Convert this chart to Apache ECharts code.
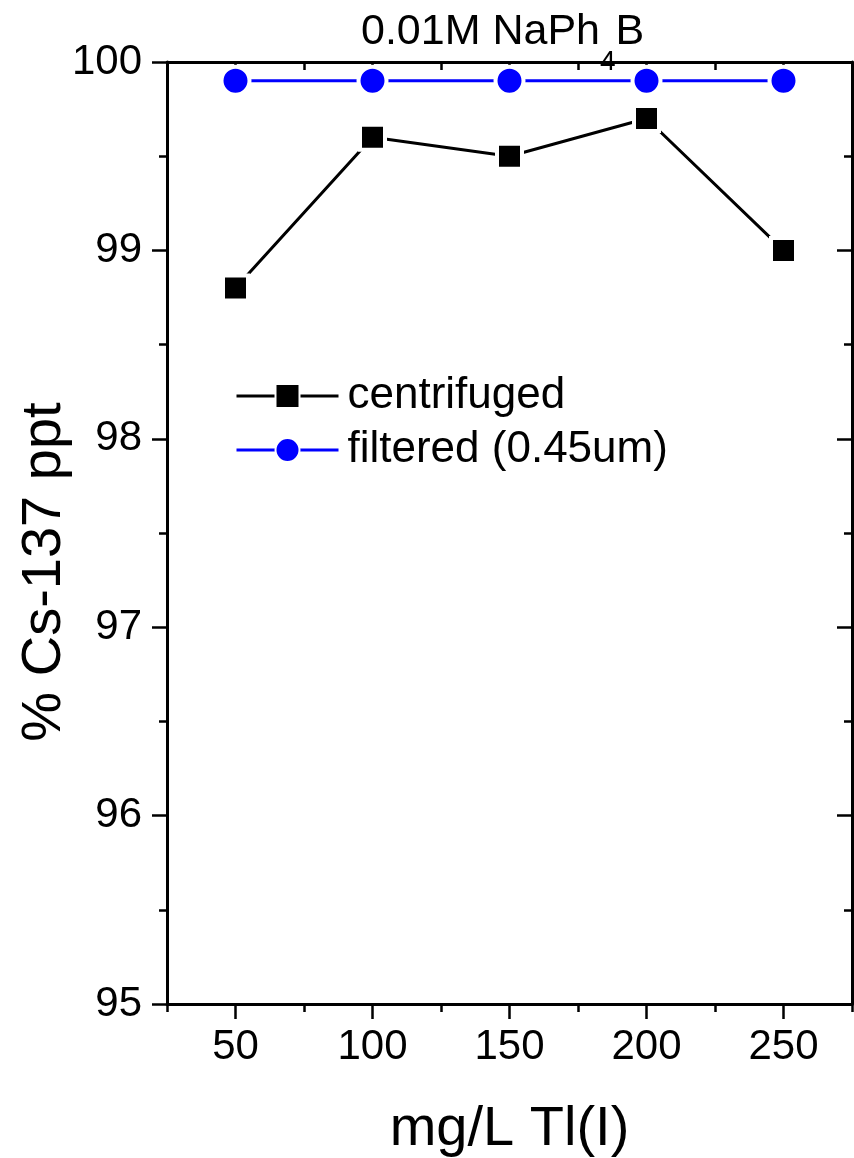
<!DOCTYPE html>
<html>
<head>
<meta charset="utf-8">
<script src="https://cdn.jsdelivr.net/npm/echarts@6/dist/echarts.min.js"></script>
<style>
  html, body { margin: 0; padding: 0; background: #fff; }
  #chart { width: 854px; height: 1158px; }
</style>
</head>
<body>
<div id="chart"></div>
<script>
// Tl(I) concentration, mg/L
const concentrations = [50, 100, 150, 200, 250];
// % Cs-137 precipitated
const centrifuged = [98.8, 99.6, 99.5, 99.7, 99.0];
const filtered = [99.9, 99.9, 99.9, 99.9, 99.9];
const xMajorTicks = [50, 100, 150, 200, 250];
const seriesNames = ['centrifuged', 'filtered (0.45um)'];

const FONT = '"Liberation Sans", Arial, sans-serif';
const AXIS_LINE = { show: true, onZero: false, lineStyle: { color: '#000', width: 3 } };
const TICK_STYLE = { color: '#000', width: 2.5 };

const chart = echarts.init(document.getElementById('chart'), null, { renderer: 'canvas' });

const xBase = { type: 'value', gridIndex: 0, min: 25, max: 275, splitLine: { show: false } };
const yBase = { type: 'value', gridIndex: 0, min: 95, max: 100, interval: 1, splitLine: { show: false } };

chart.setOption({
  backgroundColor: '#fff',
  animation: false,
  textStyle: { fontFamily: FONT, color: '#000' },
  title: {
    // subscript 4 is pushed down by its top padding
    text: '0.01M NaPh{s|4}B',
    left: 361,
    top: 9,
    padding: 0,
    textStyle: {
      fontFamily: FONT,
      fontSize: 43,
      fontWeight: 'normal',
      color: '#000',
      lineHeight: 47,
      rich: {
        s: { fontFamily: FONT, fontSize: 28, fontWeight: 'normal', color: '#000', lineHeight: 28, padding: [60, 0, 0, 0] }
      }
    }
  },
  grid: { left: 167, right: 2, top: 62, bottom: 154, containLabel: false, outerBoundsMode: 'none' },
  legend: {
    left: 235,
    top: 373,
    padding: 0,
    orient: 'vertical',
    itemWidth: 102,
    itemHeight: 30,
    itemGap: 8,
    lineStyle: { width: 3 },
    textStyle: { fontFamily: FONT, fontSize: 44, color: '#000', lineHeight: 46, padding: [0, 0, 0, 4] },
    data: seriesNames
  },
  xAxis: [
    Object.assign({}, xBase, {
      position: 'bottom',
      interval: 25,
      axisLine: AXIS_LINE,
      axisTick: { show: true, customValues: xMajorTicks, length: 15, lineStyle: TICK_STYLE },
      axisLabel: { show: true, customValues: xMajorTicks, fontFamily: FONT, fontSize: 42, color: '#000', margin: 22 },
      name: 'mg/L Tl(I)',
      nameLocation: 'middle',
      nameGap: 98,
      nameMoveOverlap: false,
      nameTextStyle: { fontFamily: FONT, fontSize: 56, color: '#000' }
    }),
    // minor ticks below the bottom edge
    Object.assign({}, xBase, {
      position: 'bottom',
      interval: 50,
      axisLine: { show: false },
      axisTick: { show: true, length: 8, lineStyle: TICK_STYLE },
      axisLabel: { show: false }
    }),
    // mirrored top edge, ticks pointing inward
    Object.assign({}, xBase, {
      position: 'top',
      interval: 25,
      axisLine: AXIS_LINE,
      axisTick: { show: true, inside: true, customValues: xMajorTicks, length: 15, lineStyle: TICK_STYLE },
      axisLabel: { show: false }
    }),
    Object.assign({}, xBase, {
      position: 'top',
      interval: 50,
      axisLine: { show: false },
      axisTick: { show: true, inside: true, length: 8, lineStyle: TICK_STYLE },
      axisLabel: { show: false }
    })
  ],
  yAxis: [
    Object.assign({}, yBase, {
      position: 'left',
      axisLine: AXIS_LINE,
      axisTick: { show: true, length: 15, lineStyle: TICK_STYLE },
      minorTick: { show: true, splitNumber: 2, length: 8, lineStyle: TICK_STYLE },
      axisLabel: { show: true, fontFamily: FONT, fontSize: 42, color: '#000', margin: 25 },
      name: '% Cs-137 ppt',
      nameLocation: 'middle',
      nameGap: 94,
      nameMoveOverlap: false,
      nameTextStyle: { fontFamily: FONT, fontSize: 56, color: '#000', padding: [0, 78, 0, 0] }
    }),
    Object.assign({}, yBase, {
      position: 'right',
      axisLine: AXIS_LINE,
      axisTick: { show: true, inside: true, length: 15, lineStyle: TICK_STYLE },
      minorTick: { show: true, splitNumber: 2, length: 8, lineStyle: TICK_STYLE },
      axisLabel: { show: false }
    })
  ],
  series: [
    {
      name: seriesNames[0],
      type: 'line',
      xAxisIndex: 0,
      yAxisIndex: 0,
      data: concentrations.map((x, i) => [x, centrifuged[i]]),
      symbol: 'rect',
      symbolSize: 25,
      color: '#000',
      lineStyle: { color: '#000', width: 3 },
      itemStyle: { color: '#000', borderColor: '#fff', borderWidth: 4 },
      z: 3
    },
    {
      name: seriesNames[1],
      type: 'line',
      xAxisIndex: 0,
      yAxisIndex: 0,
      data: concentrations.map((x, i) => [x, filtered[i]]),
      symbol: 'circle',
      symbolSize: 28,
      color: '#0000ff',
      lineStyle: { color: '#0000ff', width: 3 },
      itemStyle: { color: '#0000ff', borderColor: '#fff', borderWidth: 4 },
      z: 3
    }
  ]
});
</script>
</body>
</html>
